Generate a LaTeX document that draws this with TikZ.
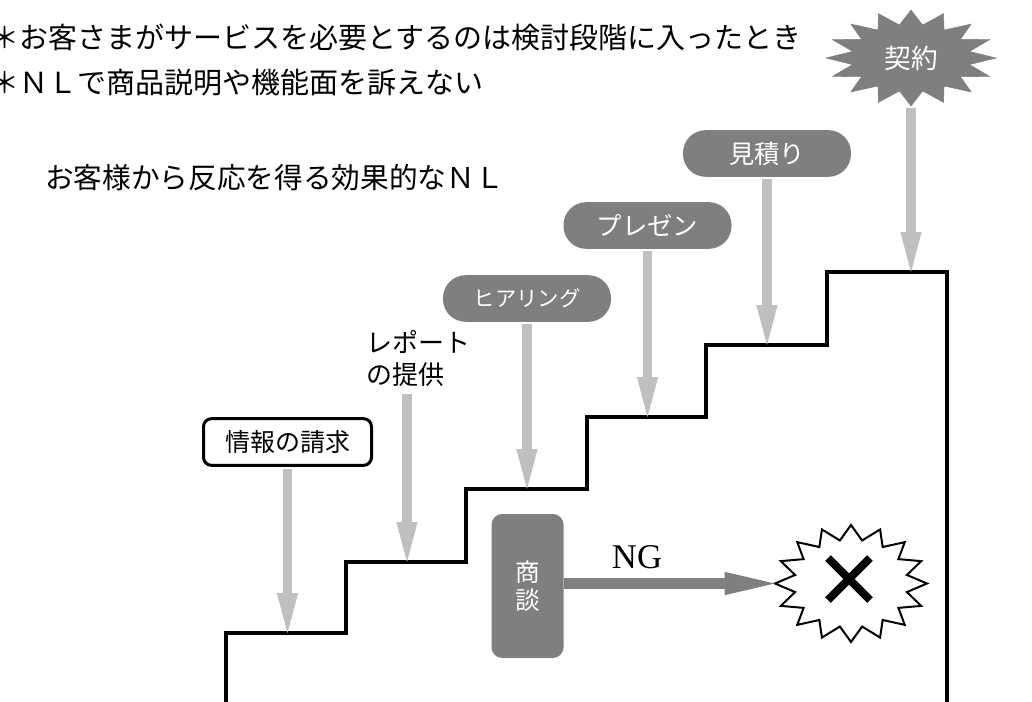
\documentclass[tikz,border=0pt]{standalone}
\usepackage{fontspec}
\setmainfont{Noto Sans CJK JP}
\newfontfamily\serifnum{Liberation Serif}
\usetikzlibrary{arrows.meta}
\definecolor{dgray}{HTML}{7F7F7F}
\definecolor{lgray}{HTML}{BFBFBF}
\tikzset{
  txt/.style={inner sep=0pt, font=\fontsize{21.75}{26}\selectfont},
  titletxt/.style={inner sep=0pt, font=\fontsize{21.5}{26}\selectfont},
  pill/.style={rectangle, rounded corners=17pt, fill=dgray, text=white,
    minimum width=126pt, minimum height=35pt, inner sep=0pt,
    font=\fontsize{19}{22}\selectfont},
  infobox/.style={rectangle, rounded corners=6pt, draw=black, line width=2.25pt,
    fill=white, minimum width=126pt, minimum height=35pt, inner sep=0pt,
    font=\fontsize{18.75}{22}\selectfont},
  talkbox/.style={rectangle, rounded corners=8pt, fill=dgray, text=white,
    minimum width=54pt, minimum height=108pt, inner sep=0pt, align=center,
    font=\fontsize{18.5}{21}\selectfont},
  stair/.style={draw=black, line width=3pt, line join=miter},
  garrow/.style={draw=lgray, line width=7pt, shorten <=1.5pt,
    -{Triangle[length=30pt,width=16pt,line width=0pt]}},
  ngarrow/.style={draw=dgray, line width=8.25pt,
    -{Triangle[length=37.5pt,width=17.5pt,line width=0pt]}},
}
\begin{document}
\begin{tikzpicture}[x=0.75pt, y=-0.75pt]
\useasboundingbox (0,0) rectangle (1032,701);

% texts at top
\node[txt, anchor=west] (l1) at (-10,37) {＊お客さまがサービスを必要とするのは検討段階に入ったとき};
\node[txt, anchor=west] (l2) at (-10,83) {＊ＮＬで商品説明や機能面を訴えない};
\node[titletxt, anchor=west] (tt) at (45,178) {お客様から反応を得る効果的なＮＬ};

% staircase
\draw[stair] (226,706) -- (226,633) -- (346,633) -- (346,562) -- (466,562)
  -- (466,489) -- (587,489) -- (587,417) -- (706,417) -- (706,345)
  -- (827,345) -- (827,272) -- (947,272) -- (947,706);

\coordinate (s1) at (287.5,633);
\coordinate (s2) at (407,562);
\coordinate (s3) at (527,489);
\coordinate (s4) at (647.5,417);
\coordinate (s5) at (767,345);
\coordinate (s6) at (911,272);

% starburst for contract
\draw[fill=dgray, draw=dgray] plot[samples at={0,1,...,31}, variable=\i]
  ({911 + 85*(1-0.3*mod(\i,2))*cos(\i*11.25)}, {58 + 48*(1-0.3*mod(\i,2))*sin(\i*11.25)}) -- cycle;
\node[inner sep=0pt, minimum width=127pt, minimum height=72pt, text=white,
  font=\fontsize{20}{24}\selectfont] (kei) at (911,58) {契約};

% stage nodes
\node[pill] (mitsu) at (767,153.5) {見積り};
\node[pill] (pres) at (647.5,225.5) {プレゼン};
\node[pill, font=\fontsize{16}{20}\selectfont] (hear) at (527,298.5) {ヒアリング};
\node[inner sep=4pt, align=left, font=\fontsize{19.5}{24}\selectfont] (rep) at (418,358) {レポート\\の提供};
\node[infobox] (joho) at (287.5,442) {情報の請求};

% arrows to the steps
\draw[garrow] (joho) -- (s1);
\draw[garrow] (rep.south -| s2) -- (s2);
\draw[garrow] (hear) -- (s3);
\draw[garrow] (pres) -- (s4);
\draw[garrow] (mitsu) -- (s5);
\draw[garrow] (kei) -- (s6);

% negotiation and NG
\node[talkbox] (sd) at (527.5,586) {商\\談};
\node[inner sep=0pt, font=\serifnum\fontsize{26}{30}\selectfont] (ng) at (637,557) {NG};

\draw[fill=white, draw=black, line width=1.5pt, line join=miter] plot[samples at={0,1,...,31}, variable=\i]
  ({851 + 76*(1-0.25*mod(\i,2))*cos(\i*11.25)}, {583.5 + 58.5*(1-0.25*mod(\i,2))*sin(\i*11.25)}) -- cycle;
\node[inner sep=0pt, minimum width=114pt, minimum height=88pt] (xs) at (851,583.5) {};
\draw[line width=6pt] ([shift={(-23,-25.5)}]xs.center) -- ([shift={(19,16.5)}]xs.center)
  ([shift={(-23,16.5)}]xs.center) -- ([shift={(19,-25.5)}]xs.center);

\draw[ngarrow] (sd.east |- xs.west) -- (xs.west);
\end{tikzpicture}
\end{document}
